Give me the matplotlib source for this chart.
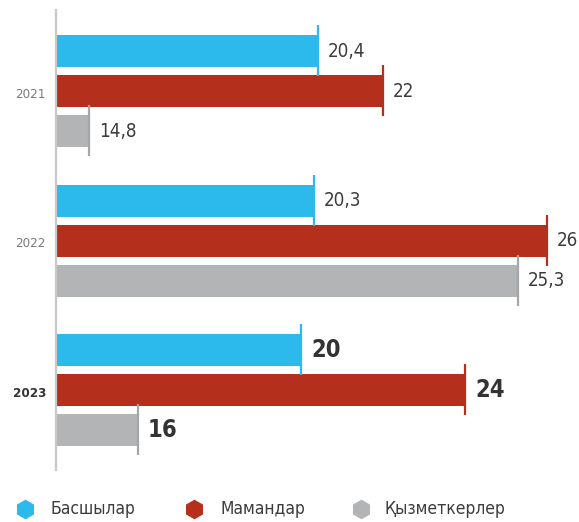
import matplotlib
matplotlib.use("Agg")
import matplotlib.pyplot as plt
from matplotlib.lines import Line2D
import numpy as np

plt.rcParams['font.family'] = ['DejaVu Sans']
plt.rcParams['font.stretch'] = 'condensed'

years = ["2021", "2022", "2023"]
series_names = ["Басшылар", "Мамандар", "Қызметкерлер"]
bashylar = [20.4, 20.3, 20]
mamandar = [22, 26, 24]
kyzmetkerler = [14.8, 25.3, 16]
value_labels = [["20,4", "20,3", "20"], ["22", "26", "24"], ["14,8", "25,3", "16"]]

series = [bashylar, mamandar, kyzmetkerler]
bar_colors = ["#2cb9ec", "#b5301c", "#b3b4b6"]
tick_colors = ["#2cb9ec", "#b5301c", "#a5a6a8"]
text_color = "#3c3c3c"

fig = plt.figure(figsize=(5.79, 5.22), dpi=100)
W, H = 579, 522
ax = fig.add_axes([56 / W, 52 / H, (560 - 56) / W, (470 - 10) / H])

group_gap = 3.74
bar_h = 0.8
ax.set_xlim(14, 14 + 504 / 40.9)
ax.set_ylim(9.475, -2.025)

for j, vals in enumerate(series):
    for i, v in enumerate(vals):
        y = i * group_gap + (j - 1) * 1.0
        ax.barh(y, v - 14, left=14, height=bar_h, color=bar_colors[j], zorder=2)
        ax.vlines(v, y - bar_h / 2 - 0.25, y + bar_h / 2 + 0.23,
                  color=tick_colors[j], lw=1.6, zorder=3)
        last = (i == len(vals) - 1)
        ax.annotate(value_labels[j][i], (v, y), xytext=(10, 0),
                    textcoords='offset pixels', ha='left', va='center',
                    fontsize=17 if last else 13.5,
                    fontweight='bold' if last else 'normal',
                    color=text_color if not last else "#333333",
                    annotation_clip=False)

# year labels next to the middle bar of each group
for i, yr in enumerate(years):
    last = (i == len(years) - 1)
    ax.annotate(yr, (14, i * group_gap), xytext=(-10, -3),
                textcoords='offset pixels', ha='right', va='center',
                fontsize=9.5, fontweight='bold' if last else 'normal',
                color="#333333" if last else "#7a7a7a",
                annotation_clip=False)

for s in ["top", "right", "bottom"]:
    ax.spines[s].set_visible(False)
ax.spines["left"].set_color("#c8c8c8")
ax.spines["left"].set_linewidth(1.6)
ax.set_xticks([])
ax.set_yticks([])
ax.patch.set_alpha(0)

# legend row
marker_x = [25, 194, 361]
label_x = [50, 220, 385]
ly = 1 - 509 / H
for k, name in enumerate(series_names):
    fig.add_artist(Line2D([marker_x[k] / W], [ly], marker='h', markersize=13,
                          color=bar_colors[k], linestyle='none',
                          transform=fig.transFigure))
    fig.text(label_x[k] / W, ly, name, ha='left', va='center',
             fontsize=12.5, color=text_color)

fig.savefig("out.png", dpi=100)
